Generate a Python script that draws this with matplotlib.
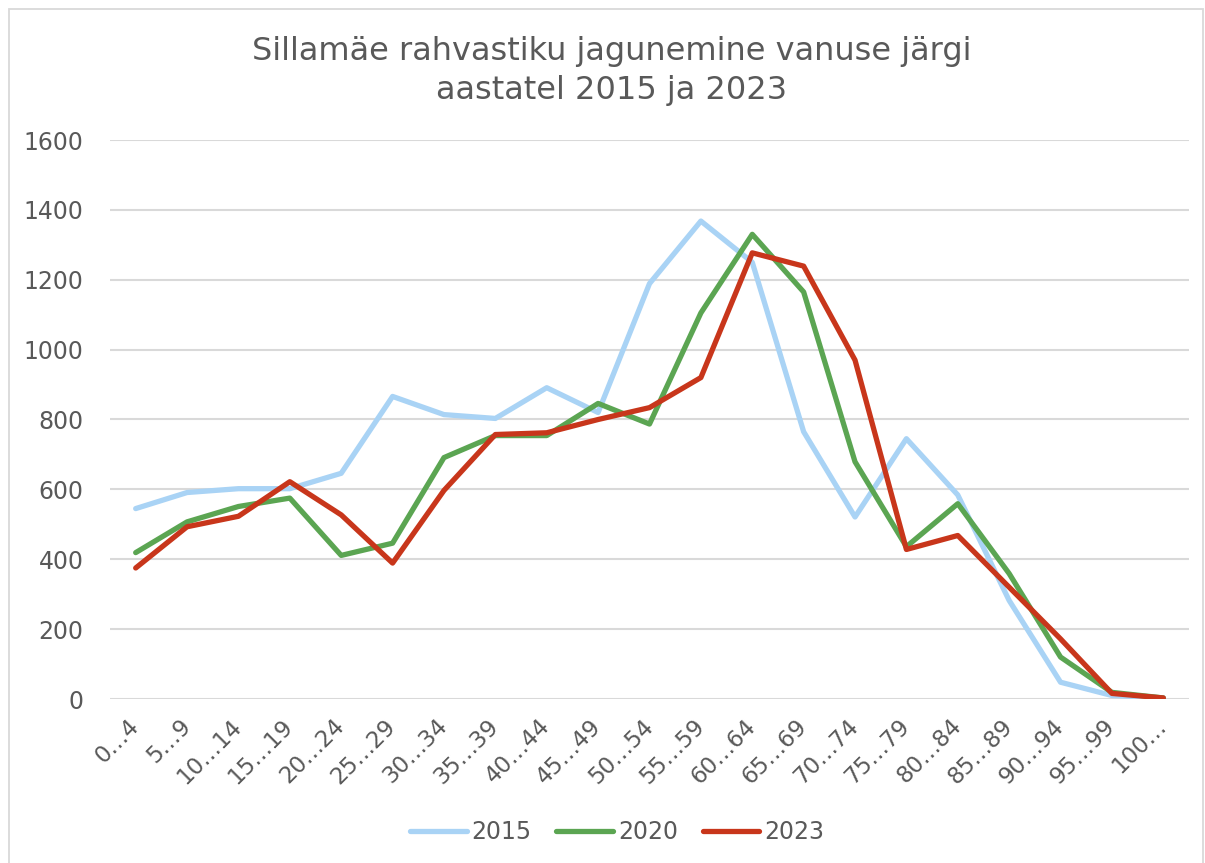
import matplotlib
matplotlib.use("Agg")
import matplotlib.pyplot as plt
from matplotlib.lines import Line2D

categories = ["0…4", "5…9", "10…14", "15…19", "20…24", "25…29", "30…34", "35…39",
              "40…44", "45…49", "50…54", "55…59", "60…64", "65…69", "70…74", "75…79",
              "80…84", "85…89", "90…94", "95…99", "100…"]
series_names = ["2015", "2020", "2023"]
v2015 = [545, 591, 602, 602, 646, 866, 814, 803, 891, 820, 1189, 1368, 1250, 765,
         521, 745, 584, 282, 48, 10, 3]
v2020 = [419, 507, 551, 575, 411, 446, 691, 754, 754, 846, 787, 1105, 1330, 1165,
         679, 436, 559, 359, 120, 19, 3]
v2023 = [375, 493, 523, 622, 527, 389, 597, 757, 762, 800, 834, 920, 1277, 1239,
         970, 428, 468, 320, 172, 16, 3]
yticks = [0, 200, 400, 600, 800, 1000, 1200, 1400, 1600]
title = "Sillamäe rahvastiku jagunemine vanuse järgi\naastatel 2015 ja 2023"

colors = ["#A9D3F5", "#5BA552", "#C8361B"]
txt = "#595959"

plt.rcParams['font.family'] = ['DejaVu Sans']

W, H = 1205, 863
fig = plt.figure(figsize=(W / 100, H / 100), dpi=100)
ax = fig.add_axes([110 / W, (H - 699) / H, (1189 - 110) / W, (699 - 140) / H])

x = list(range(len(categories)))
for vals, c, name in zip([v2015, v2020, v2023], colors, series_names):
    ax.plot(x, vals, color=c, lw=3.8, solid_joinstyle='round', solid_capstyle='round',
            label=name, zorder=3)

ax.set_xlim(-0.5, len(categories) - 0.5)
ax.set_ylim(0, 1600)
ax.set_yticks(yticks)
ax.set_yticklabels([str(t) for t in yticks], fontsize=17, color=txt)
ax.grid(axis='y', color='#D9D9D9', lw=1.5, zorder=0)
ax.set_axisbelow(True)
for s in ax.spines.values():
    s.set_visible(False)
ax.tick_params(axis='y', length=0, pad=19)
ax.tick_params(axis='x', length=0, pad=17)
ax.set_xticks(x)
ax.set_xticklabels(categories, fontsize=16.5, color=txt, rotation=45, ha='right',
                   va='center', rotation_mode='anchor')

fig.text(612 / W, (H - 71) / H, title, ha='center', va='center', fontsize=23,
         color=txt, linespacing=1.35)

handles = [Line2D([0], [0], color=c, lw=3.8, solid_capstyle='round') for c in colors]
fig.legend(handles, series_names, loc='center', bbox_to_anchor=(617 / W, (H - 832) / H),
           ncol=3, frameon=False, fontsize=17, labelcolor=txt, handlelength=2.4,
           handletextpad=0.2, columnspacing=1.05)

# chart border
border = plt.Rectangle((9 / W, -0.01), (1203 - 9) / W, (H - 9) / H + 0.01,
                       transform=fig.transFigure, fill=False, ec='#D9D9D9', lw=1.3)
fig.add_artist(border)

fig.savefig("out.png", dpi=100)
